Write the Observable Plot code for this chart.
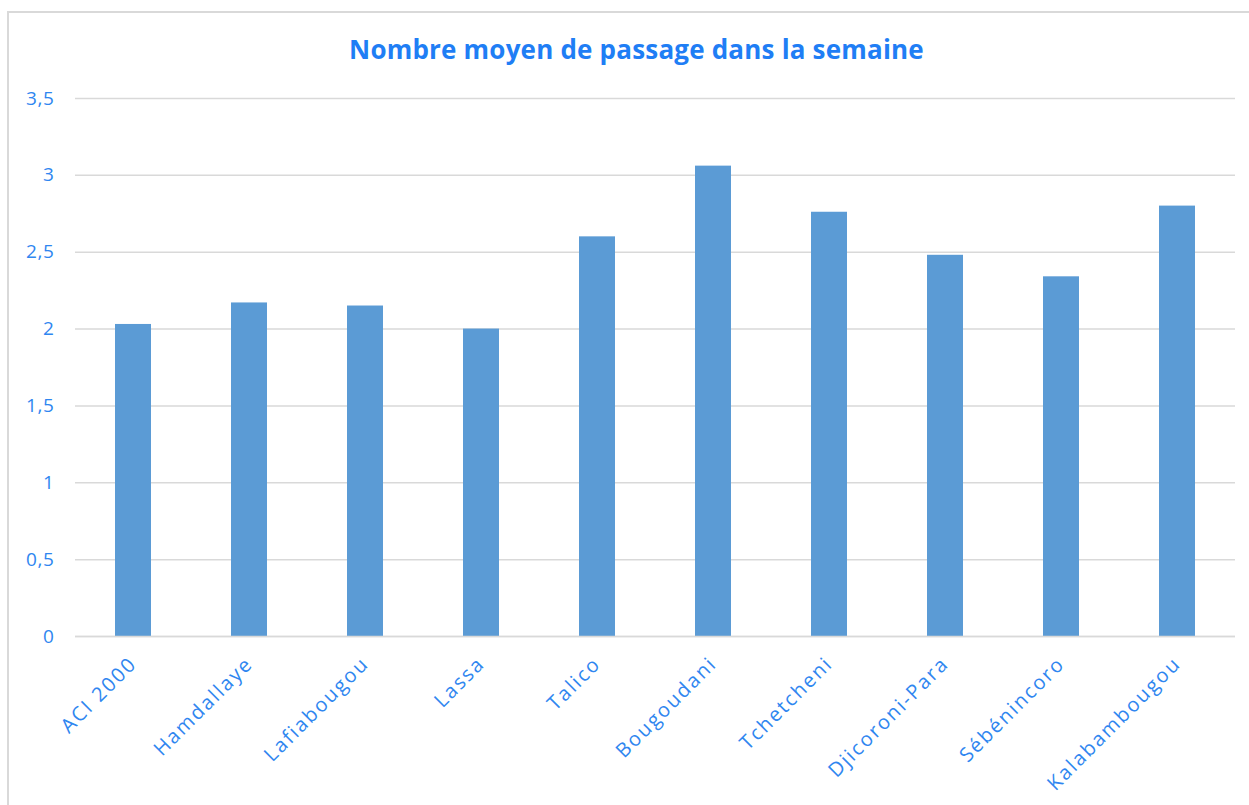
<!DOCTYPE html>
<html>
<head>
<meta charset="utf-8">
<script src="https://cdn.jsdelivr.net/npm/d3@7"></script>
<script src="https://cdn.jsdelivr.net/npm/@observablehq/plot@0.6"></script>
<style>
  html, body { margin: 0; padding: 0; background: #fff; }
  #frame { position: relative; width: 1249px; height: 805px; overflow: hidden; }
  #border { position: absolute; left: 7px; top: 11px; right: -10px; bottom: -10px; border-top: 2px solid #d9d9d9; border-left: 2px solid #d9d9d9; pointer-events: none; }
  #title { height: 80px; box-sizing: border-box; padding-top: 32px; text-align: center; font-family: "Open Sans", sans-serif; font-weight: bold; font-size: 26px; color: #1f7ef5; line-height: 34px; padding-left: 24px; letter-spacing: 0.2px; }
  #chart svg { display: block; }
  #chart g[aria-label="x-axis tick label"] text { letter-spacing: 2px; }
  #chart g[aria-label="y-axis tick label"] text { letter-spacing: 0.6px; }
</style>
</head>
<body>
<div id="frame">
  <div id="border"></div>
  <div id="title">Nombre moyen de passage dans la semaine</div>
  <div id="chart"></div>
</div>
<script>
const quartiers = ["ACI 2000", "Hamdallaye", "Lafiabougou", "Lassa", "Talico", "Bougoudani", "Tchetcheni", "Djicoroni-Para", "Sébénincoro", "Kalabambougou"];
const moyennes = [2.03, 2.17, 2.15, 2.0, 2.6, 3.06, 2.76, 2.48, 2.34, 2.8];
const yTicks = [0, 0.5, 1, 1.5, 2, 2.5, 3, 3.5];

const data = quartiers.map((q, i) => ({q, v: moyennes[i]}));
const fmt = d => String(d).replace(".", ",");
const txt = "#2f86f0";

const chart = Plot.plot({
  width: 1249,
  height: 725,
  marginTop: 18,
  marginBottom: 169,
  marginLeft: 75,
  marginRight: 14,
  style: {fontFamily: "Open Sans, sans-serif", fontSize: "18px", color: txt, background: "transparent"},
  x: {domain: quartiers, paddingInner: 0.69, paddingOuter: 0.345, label: null},
  y: {domain: [0, 3.5], label: null},
  marks: [
    Plot.gridY(yTicks, {stroke: "#d9d9d9", strokeOpacity: 1, strokeWidth: 1.5}),
    Plot.barY(data, {x: "q", y: "v", fill: "#5b9bd5"}),
    Plot.ruleY([0], {stroke: "#d9d9d9", strokeWidth: 1.5}),
    Plot.axisY({ticks: yTicks, tickFormat: fmt, tickSize: 0, tickPadding: 21, fill: txt, fontSize: 19, label: null}),
    Plot.axisX({tickSize: 0, tickPadding: 24, dx: 0, tickRotate: -45, fill: txt, fontSize: 20, label: null})
  ]
});
document.getElementById("chart").appendChild(chart);
</script>
</body>
</html>
